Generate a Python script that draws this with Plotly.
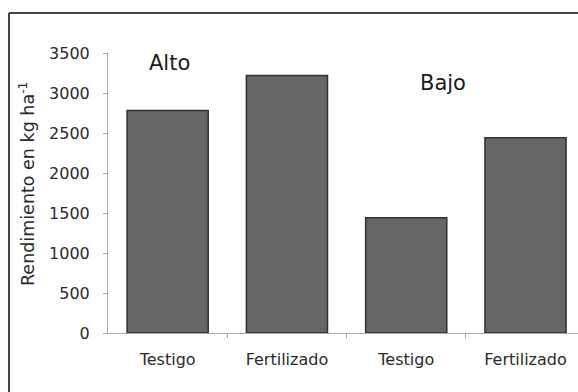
import plotly.graph_objects as go

groups = ["Alto", "Alto", "Bajo", "Bajo"]
treatments = ["Testigo", "Fertilizado", "Testigo", "Fertilizado"]
yields = [2780, 3220, 1440, 2440]
y_ticks = [0, 500, 1000, 1500, 2000, 2500, 3000, 3500]

W, H = 578, 392
L, R, T, B = 108, 0, 53, 59
pw, ph = W - L - R, H - T - B

def px(xpix):
    return (xpix - L) / pw

def py(ypix):
    return (H - B - ypix) / ph

xs = list(range(len(yields)))
fig = go.Figure(go.Bar(
    x=xs, y=yields, width=0.68,
    marker=dict(color="#666666", line=dict(color="#303030", width=1.5)),
    hoverinfo="skip",
))

font = "DejaVu Sans, Arial, sans-serif"
fig.update_layout(
    width=W, height=H,
    margin=dict(l=L, r=R, t=T, b=B, pad=0),
    paper_bgcolor="white", plot_bgcolor="white",
    showlegend=False,
    font=dict(family=font, size=16, color="#2a2a2a"),
    xaxis=dict(
        range=[-0.5, 3.44], tickvals=xs, ticktext=treatments,
        ticks="", showgrid=False, zeroline=False,
        showline=True, linecolor="#a8a8a8", linewidth=1,
        ticklabelstandoff=12,
        minor=dict(tickmode="array", tickvals=[0.5, 1.5, 2.5],
                   ticks="outside", ticklen=4,
                   tickcolor="#a8a8a8", showgrid=False),
    ),
    yaxis=dict(
        range=[0, 3500], tickvals=y_ticks, showgrid=False, zeroline=False,
        showline=True, linecolor="#a8a8a8", linewidth=1,
        ticks="outside", ticklen=4, tickcolor="#a8a8a8",
        ticklabelstandoff=10,
    ),
)

fig.add_annotation(
    text="Rendimiento en kg ha<sup>-1</sup>", textangle=-90,
    xref="paper", yref="paper", x=px(27), y=py(184),
    showarrow=False, font=dict(size=17.5, color="#2a2a2a"),
    xanchor="center", yanchor="middle",
)
fig.add_annotation(text=groups[0], xref="paper", yref="paper",
                   x=px(169), y=py(63), showarrow=False,
                   xanchor="center", yanchor="middle",
                   font=dict(size=21, color="#1a1a1a"))
fig.add_annotation(text=groups[2], xref="paper", yref="paper",
                   x=px(443), y=py(83), showarrow=False,
                   xanchor="center", yanchor="middle",
                   font=dict(size=21, color="#1a1a1a"))

border = dict(color="#444444", width=2)
fig.add_shape(type="line", xref="paper", yref="paper",
              x0=px(9), x1=px(590), y0=py(13), y1=py(13),
              line=border, layer="above")
fig.add_shape(type="line", xref="paper", yref="paper",
              x0=px(9), x1=px(9), y0=py(13), y1=py(400),
              line=border, layer="above")

fig.write_html(
    "out.html",
    config={"displayModeBar": False},
    post_script=(
        "document.body.style.margin='0';"
        "document.body.style.overflow='hidden';"
        "document.documentElement.style.overflow='hidden';"
    ),
)
